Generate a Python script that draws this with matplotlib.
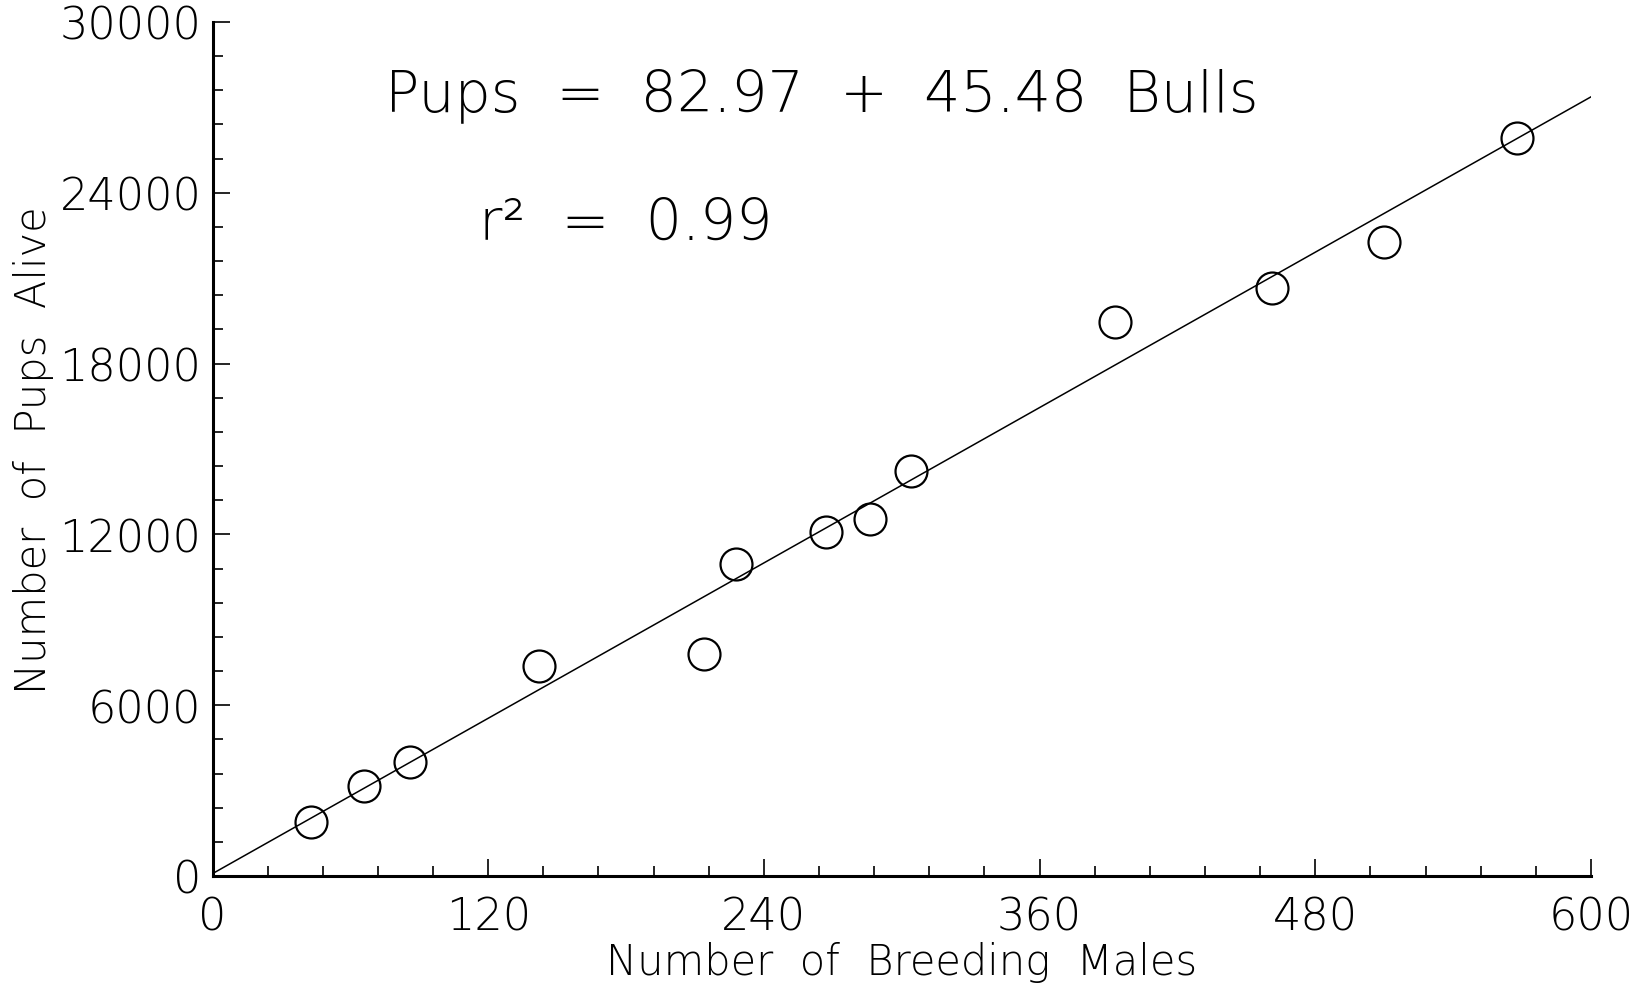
import matplotlib
matplotlib.use("Agg")
import matplotlib.pyplot as plt
from matplotlib.ticker import MultipleLocator

# ---- data --------------------------------------------------------------------
bulls = [43, 66, 86, 142, 214, 228, 267, 286, 304, 393, 461, 510, 568]
pups = [1910, 3160, 4010, 7390, 7790, 10950, 12100, 12540, 14230, 19450, 20660, 22280, 25920]
fit_x = [0, 600]
intercept, slope = 82.97, 45.48

plt.rcParams["font.family"] = ["DejaVu Sans"]

fig = plt.figure(figsize=(16.41, 9.87), dpi=100)
ax = fig.add_axes([212.5 / 1641, 1 - 877 / 987, (1591 - 212.5) / 1641, (877 - 23) / 987])

ax.plot(fit_x, [intercept + slope * x for x in fit_x], color="black", lw=1.1)
ax.plot(bulls, pups, "o", ms=23, mfc="none", mec="black", mew=1.6)

ax.set_xlim(0, 600)
ax.set_ylim(0, 30000)
ax.xaxis.set_major_locator(MultipleLocator(120))
ax.xaxis.set_minor_locator(MultipleLocator(24))
ax.yaxis.set_major_locator(MultipleLocator(6000))
ax.yaxis.set_minor_locator(MultipleLocator(1200))
for s in ("top", "right"):
    ax.spines[s].set_visible(False)
for s in ("left", "bottom"):
    ax.spines[s].set_linewidth(2.2)
ax.tick_params(which="both", direction="in", width=1.2, labelsize=32)
ax.tick_params(axis="x", pad=14)
ax.tick_params(axis="y", pad=8)
ax.tick_params(which="major", length=12)
ax.tick_params(which="minor", length=7)
for lab in ax.get_xticklabels() + ax.get_yticklabels():
    lab.set_fontweight("light")

ax.set_xlabel("Number  of  Breeding  Males", fontsize=30, fontweight="light", labelpad=2)
ax.set_ylabel("Number  of  Pups  Alive", fontsize=30, fontweight="light", labelpad=4)

ax.text(0.125, 0.915, "Pups  =  82.97  +  45.48  Bulls", transform=ax.transAxes,
        fontsize=41, fontweight="light", va="center", ha="left")
ax.text(0.193, 0.765, "r\u00b2  =  0.99", transform=ax.transAxes,
        fontsize=41, fontweight="light", va="center", ha="left")

fig.savefig("out.png", dpi=100)
